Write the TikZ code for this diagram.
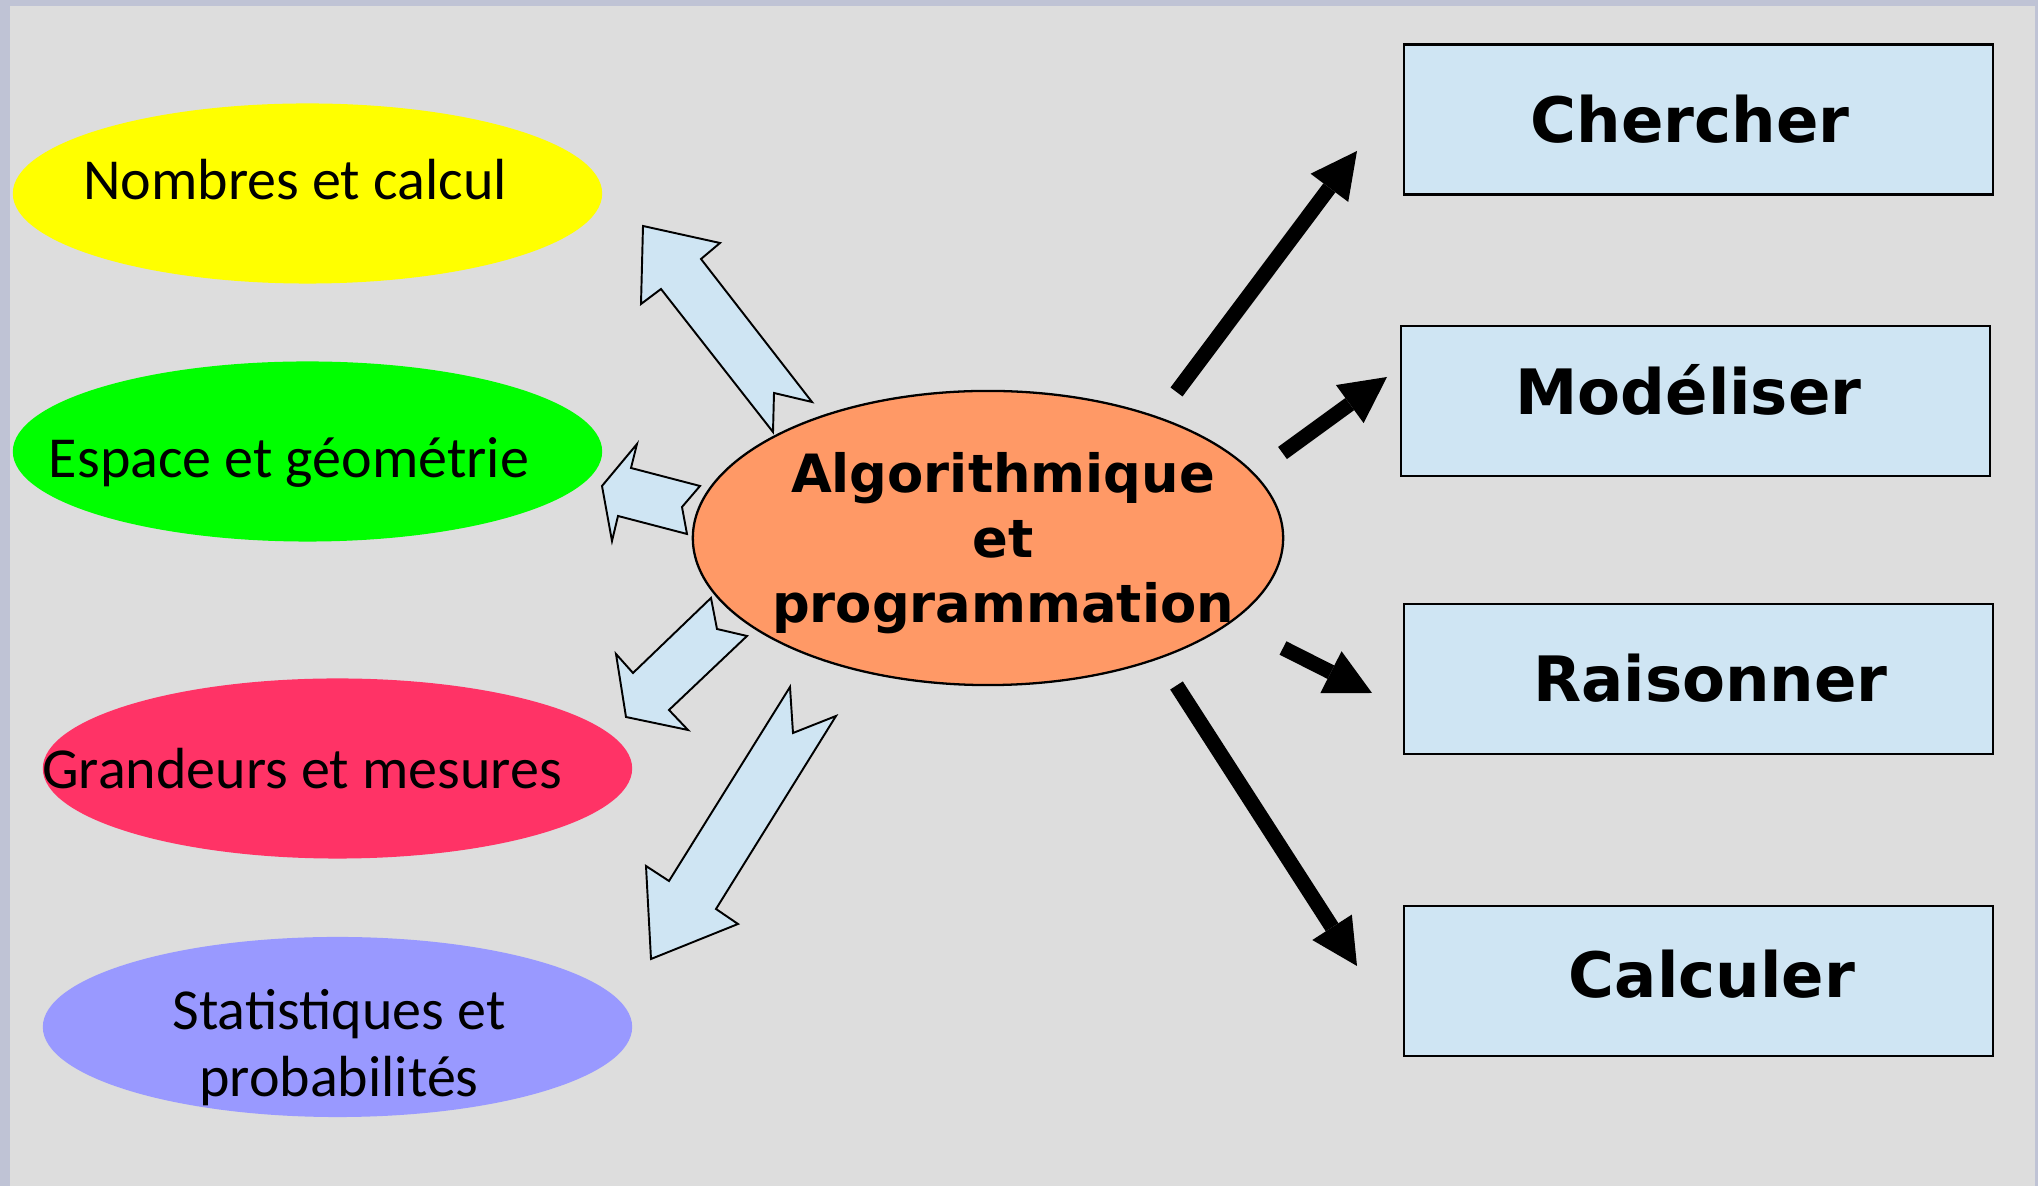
\documentclass[tikz,border=0pt]{standalone}
\usepackage{fontspec}
\usetikzlibrary{arrows.meta,shapes.geometric}
\newfontfamily\carl{Carlito}
\newfontfamily\djv{DejaVu Sans}
\definecolor{framecol}{HTML}{BFC3D5}
\definecolor{bgcol}{HTML}{DDDDDD}
\definecolor{lightblue}{HTML}{CFE5F3}
\definecolor{yel}{HTML}{FFFF00}
\definecolor{grn}{HTML}{00FF00}
\definecolor{pinkred}{HTML}{FF3366}
\definecolor{lav}{HTML}{9999FF}
\definecolor{orng}{HTML}{FF9966}
\begin{document}
\begin{tikzpicture}[x=0.01cm,y=-0.01cm,
  topic/.style={ellipse, draw=none, minimum width=5.89cm, minimum height=1.80cm, inner sep=0pt},
  topictext/.style={anchor=base, inner sep=0pt, font=\carl\fontsize{16.5}{19.1}\selectfont, align=center},
  skill/.style={rectangle, draw=black, line width=0.7pt, fill=lightblue, minimum width=5.89cm, minimum height=1.50cm, inner sep=0pt},
  skilltext/.style={anchor=base, inner sep=0pt, font=\djv\bfseries\fontsize{17.8}{21}\selectfont},
  centertext/.style={anchor=base, inner sep=0pt, align=center, font=\djv\bfseries\fontsize{15}{18.5}\selectfont},
  blockarrow/.style={draw=black, line width=0.55pt, fill=lightblue, line join=miter},
  bigarrow/.style={line width=0.15cm, -{Triangle[length=0.46cm,width=0.47cm,line width=0pt]}}
]
\useasboundingbox (0,0) rectangle (2038,1186);
\fill[framecol] (0,0) rectangle (2038,1186);
\fill[bgcol] (10,6) rectangle (2035,1186);

% topic ellipses
\node[topic, fill=yel] (nombres) at (307.5,193.5) {};
\node[topic, fill=grn] (espace) at (307.5,451.5) {};
\node[topic, fill=pinkred] (grandeurs) at (337.5,768.5) {};
\node[topic, fill=lav] (stats) at (337.5,1027) {};
\node[topictext] (nombres-t) at (295,200) {Nombres et calcul};
\node[topictext] (espace-t) at (289,478) {Espace et géométrie};
\node[topictext] (grandeurs-t) at (302,789) {Grandeurs et mesures};
\node[topictext] (stats-t) at (339,1097) {Statistiques et\\probabilités};

% central ellipse
\node[ellipse, draw=black, line width=0.65pt, fill=orng, minimum width=5.90cm, minimum height=2.94cm, inner sep=0pt] (algo) at (988,538) {};
\node[centertext] (algo-t) at (1003,623) {Algorithmique\\et\\programmation};

% skill boxes
\node[skill] (chercher) at (1698.5,119.5) {};
\node[skill] (modeliser) at (1695.5,401) {};
\node[skill] (raisonner) at (1698.5,679) {};
\node[skill] (calculer) at (1698.5,981) {};
\node[skilltext] (chercher-t) at (1690,143) {Chercher};
\node[skilltext] (modeliser-t) at (1688.5,415) {Modéliser};
\node[skilltext] (raisonner-t) at (1710.5,702) {Raisonner};
\node[skilltext] (calculer-t) at (1712,998) {Calculer};

% block arrows towards the topics
\draw[blockarrow] (643,226) -- (720,243) -- (701,259) -- (812,402) -- (774,393) -- (773,432) -- (661,289) -- (641,304) -- cycle;
\draw[blockarrow] (602,486) -- (637,444) -- (631,468) -- (700,486) -- (682,507) -- (687,534) -- (618,516) -- (612,541) -- cycle;
\draw[blockarrow] (711,598) -- (717,629) -- (747,636) -- (669,710) -- (688,730) -- (626,717) -- (616,654) -- (633,673) -- cycle;
\draw[blockarrow] (790,687) -- (793,733) -- (836,716) -- (716,909) -- (738,924) -- (651,959) -- (646,866) -- (669,881) -- cycle;

% black arrows towards the skills
\coordinate (a1s) at (1176.5,392);
\coordinate (a1e) at (1357,151);
\coordinate (a2s) at (1282.5,453);
\coordinate (a2e) at (1387,377);
\coordinate (a3s) at (1283,648);
\coordinate (a3e) at (1372,693);
\coordinate (a4s) at (1176.5,685.5);
\coordinate (a4e) at (1357,966);
\draw[bigarrow] (a1s) -- (a1e);
\draw[bigarrow] (a2s) -- (a2e);
\draw[bigarrow] (a3s) -- (a3e);
\draw[bigarrow] (a4s) -- (a4e);
\end{tikzpicture}
\end{document}
